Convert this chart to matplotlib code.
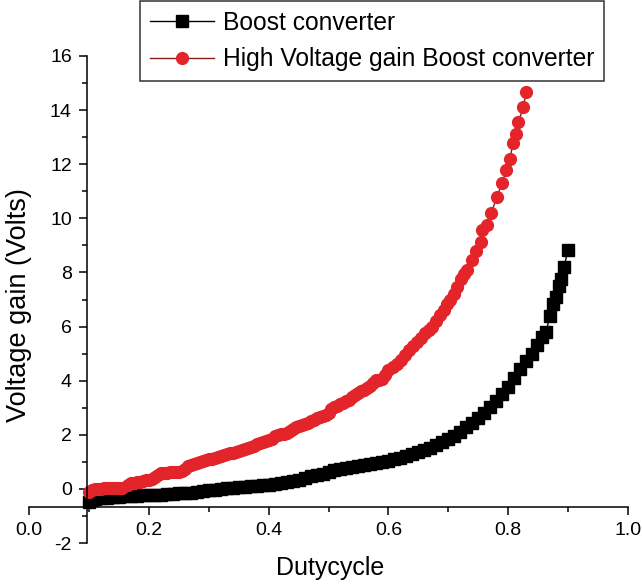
import numpy as np
import matplotlib
matplotlib.use("Agg")
import matplotlib.pyplot as plt
from matplotlib.ticker import MultipleLocator, FormatStrFormatter

plt.rcParams['font.family'] = ['Liberation Sans', 'DejaVu Sans']
plt.rcParams['axes.unicode_minus'] = False

#--- data ---#
duty_boost = [0.100, 0.105, 0.110, 0.120, 0.130, 0.140, 0.150, 0.160, 0.170, 0.180,
              0.190, 0.200, 0.210, 0.220, 0.230, 0.240, 0.250, 0.260, 0.270, 0.280,
              0.290, 0.300, 0.310, 0.320, 0.330, 0.340, 0.350, 0.360, 0.370, 0.380,
              0.390, 0.400, 0.410, 0.420, 0.430, 0.440, 0.450, 0.460, 0.470, 0.480,
              0.490, 0.500, 0.510, 0.520, 0.530, 0.540, 0.550, 0.560, 0.570, 0.580,
              0.590, 0.600, 0.610, 0.620, 0.630, 0.640, 0.650, 0.660, 0.670, 0.680,
              0.690, 0.700, 0.710, 0.720, 0.730, 0.740, 0.750, 0.760, 0.770, 0.780,
              0.790, 0.800, 0.810, 0.820, 0.830, 0.840, 0.848, 0.856, 0.863, 0.870,
              0.875, 0.880, 0.884, 0.888, 0.893, 0.900]
gain_boost = [-0.50, -0.40, -0.36, -0.34, -0.32, -0.30, -0.30, -0.28, -0.27, -0.26,
              -0.24, -0.22, -0.22, -0.21, -0.20, -0.19, -0.17, -0.16, -0.14, -0.10,
              -0.06, -0.05, -0.03, -0.01, 0.02, 0.04, 0.06, 0.08, 0.10, 0.12,
              0.13, 0.14, 0.18, 0.22, 0.26, 0.30, 0.34, 0.42, 0.48, 0.52,
              0.56, 0.62, 0.68, 0.72, 0.76, 0.80, 0.84, 0.88, 0.92, 0.96,
              1.00, 1.04, 1.10, 1.16, 1.22, 1.28, 1.36, 1.44, 1.52, 1.62,
              1.72, 1.84, 1.97, 2.12, 2.28, 2.45, 2.62, 2.82, 3.02, 3.25,
              3.50, 3.78, 4.10, 4.42, 4.72, 5.00, 5.30, 5.60, 5.80, 6.40,
              6.85, 7.10, 7.50, 7.75, 8.20, 8.83]

duty_hv = [0.100, 0.105, 0.110, 0.115, 0.120, 0.125, 0.130, 0.135, 0.140, 0.145,
           0.150, 0.155, 0.165, 0.170, 0.175, 0.180, 0.185, 0.190, 0.195, 0.200,
           0.205, 0.210, 0.215, 0.220, 0.225, 0.230, 0.235, 0.240, 0.245, 0.250,
           0.255, 0.260, 0.265, 0.270, 0.275, 0.280, 0.285, 0.290, 0.295, 0.300,
           0.305, 0.310, 0.315, 0.320, 0.325, 0.330, 0.335, 0.340, 0.345, 0.350,
           0.355, 0.360, 0.365, 0.370, 0.375, 0.380, 0.385, 0.390, 0.395, 0.400,
           0.405, 0.410, 0.415, 0.420, 0.425, 0.430, 0.435, 0.440, 0.445, 0.450,
           0.455, 0.460, 0.465, 0.470, 0.475, 0.480, 0.485, 0.490, 0.495, 0.500,
           0.505, 0.510, 0.515, 0.520, 0.525, 0.530, 0.535, 0.540, 0.545, 0.550,
           0.555, 0.560, 0.565, 0.570, 0.575, 0.580, 0.585, 0.590, 0.595, 0.600,
           0.607, 0.614, 0.621, 0.628, 0.635, 0.641, 0.647, 0.654, 0.661, 0.667,
           0.672, 0.679, 0.686, 0.692, 0.698, 0.703, 0.709, 0.714, 0.721, 0.727,
           0.732, 0.739, 0.747, 0.755, 0.757, 0.764, 0.772, 0.781, 0.790, 0.797,
           0.803, 0.808, 0.813, 0.817, 0.825, 0.830]
gain_hv = [-0.12, -0.05, -0.02, 0.00, 0.01, 0.02, 0.02, 0.03, 0.03, 0.04,
           0.04, 0.05, 0.15, 0.20, 0.22, 0.25, 0.27, 0.30, 0.32, 0.34,
           0.38, 0.45, 0.52, 0.57, 0.58, 0.60, 0.61, 0.62, 0.63, 0.64,
           0.66, 0.75, 0.85, 0.90, 0.93, 0.95, 0.98, 1.02, 1.06, 1.09,
           1.12, 1.14, 1.17, 1.20, 1.24, 1.28, 1.31, 1.34, 1.37, 1.40,
           1.44, 1.48, 1.51, 1.55, 1.60, 1.65, 1.70, 1.74, 1.77, 1.80,
           1.86, 1.95, 2.00, 2.02, 2.04, 2.07, 2.14, 2.22, 2.27, 2.31,
           2.36, 2.40, 2.45, 2.50, 2.56, 2.63, 2.67, 2.68, 2.72, 2.80,
           2.95, 3.04, 3.08, 3.12, 3.18, 3.24, 3.29, 3.40, 3.48, 3.54,
           3.60, 3.66, 3.72, 3.79, 3.90, 4.02, 4.04, 4.06, 4.20, 4.38,
           4.50, 4.62, 4.78, 4.95, 5.12, 5.28, 5.44, 5.58, 5.75, 5.88,
           6.00, 6.20, 6.43, 6.62, 6.85, 7.00, 7.22, 7.45, 7.76, 7.95,
           8.10, 8.45, 8.80, 9.14, 9.57, 9.76, 10.20, 10.80, 11.30, 11.80,
           12.20, 12.80, 13.10, 13.55, 14.10, 14.66]

labels = ["Boost converter", "High Voltage gain Boost converter"]

#--- figure ---#
fig = plt.figure(figsize=(6.42, 5.86), dpi=100)
ax = fig.add_axes([29/642, 1 - 543/586, 599/642, 487/586])

ax.plot(duty_boost, gain_boost, color='black', lw=1.0, marker='s', ms=8.5,
        mec='black', mfc='black', label=labels[0])
ax.plot(duty_hv, gain_hv, color='#8b1a1a', lw=1.0, marker='o', ms=8.5,
        mec='#e0262b', mfc='#e5242a', label=labels[1])

ax.set_xlim(0.0, 1.0)
ax.set_ylim(-2, 16)

# Origin-like axes crossing inside the plot
ax.spines['top'].set_visible(False)
ax.spines['right'].set_visible(False)
ax.spines['left'].set_position(('data', 0.097))
ax.spines['bottom'].set_position(('data', -0.67))
for s in ('left', 'bottom'):
    ax.spines[s].set_linewidth(1.1)

ax.xaxis.set_major_locator(MultipleLocator(0.2))
ax.xaxis.set_minor_locator(MultipleLocator(0.1))
ax.yaxis.set_major_locator(MultipleLocator(2))
ax.yaxis.set_minor_locator(MultipleLocator(1))
ax.xaxis.set_major_formatter(FormatStrFormatter('%.1f'))
ax.yaxis.set_major_formatter(FormatStrFormatter('%d'))
ax.tick_params(which='major', direction='out', length=6, width=1.1,
               labelsize=14, pad=5)
ax.tick_params(which='minor', direction='out', length=3.5, width=1.1)

fig.text(19/642, 1 - 305/586, "Voltage gain (Volts)", rotation=90,
         ha='center', va='center', fontsize=19.5)
fig.text(330/642, 1 - 568/586, "Dutycycle", ha='center', va='center',
         fontsize=18)

leg = fig.legend(loc='upper left', bbox_to_anchor=(140/642, 1 - 1/586),
                 fontsize=17.7, frameon=True, fancybox=False, borderaxespad=0,
                 handlelength=2.6, handletextpad=0.37, borderpad=0.4,
                 labelspacing=0.5)
leg.get_frame().set_edgecolor('black')
leg.get_frame().set_linewidth(1.1)

fig.savefig("out.png", dpi=100)
